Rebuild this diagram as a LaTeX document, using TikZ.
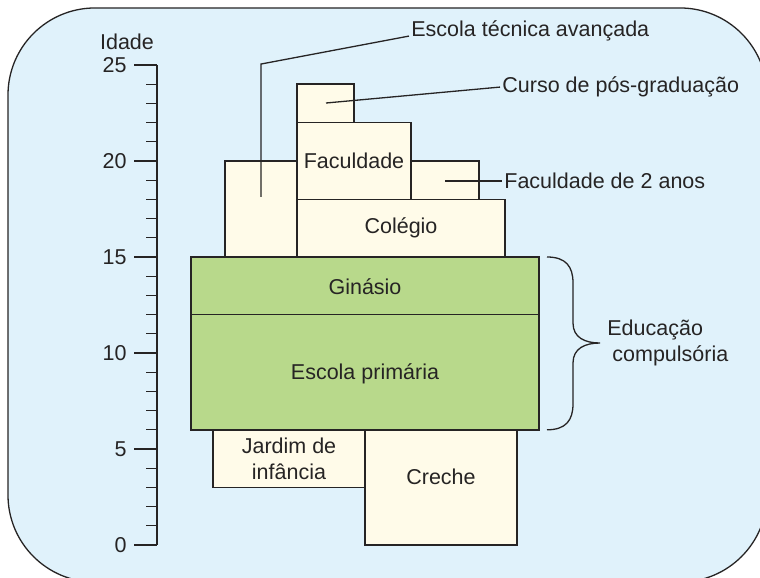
\documentclass[tikz,border=0pt]{standalone}
\usepackage{fontspec}
\setmainfont{Liberation Sans}
\definecolor{fundo}{RGB}{224,242,251}
\definecolor{creme}{RGB}{255,251,233}
\definecolor{verde}{RGB}{184,217,139}
\definecolor{traco}{RGB}{38,36,36}
\tikzset{
	caixa/.style={draw=traco,fill=creme,line width=0.75pt},
	caixaverde/.style={draw=traco,fill=verde,line width=0.75pt},
	linha/.style={draw=traco,line width=0.65pt},
	rotulo/.style={text=traco,inner sep=1pt,font=\fontsize{10.75}{13}\selectfont},
}
\begin{document}
\begin{tikzpicture}[x=0.5pt,y=9.6pt]
		\clip (0,-1.71875) rectangle (760,28.385);
		\draw[linha,fill=fundo,rounded corners=43.5pt] (8,27.97) rectangle (767,-1.93);
		\draw[linha] (157,0) -- (157,25);
		\foreach \i in {0,...,25}
			\draw[linha] (146,\i) -- (157,\i);
		\foreach \i in {0,5,...,25} {
			\draw[linha] (134,\i) -- (157,\i);
			\node[rotulo,anchor=east] (n\i) at (129,\i) {\i};
		}
		\node[rotulo] (idade) at (127,26.2) {Idade};
		\draw[caixa] (225,15) rectangle (297,20);
		\draw[caixa] (297,22) rectangle (354,24);
		\draw[caixa] (297,18) rectangle (411,22);
		\draw[caixa] (411,18) rectangle (479,20);
		\draw[caixa] (297,15) rectangle (505,18);
		\draw[caixaverde] (191,12) rectangle (539,15);
		\draw[caixaverde] (191,6) rectangle (539,12);
		\draw[caixa] (213,3) rectangle (365,6);
		\draw[caixa] (365,0) rectangle (517,6);
		\node[rotulo] (faculdade) at (354,20) {Faculdade};
		\node[rotulo] (colegio) at (401,16.5) {Colégio};
		\node[rotulo] (ginasio) at (365,13.45) {Ginásio};
		\node[rotulo] (primaria) at (365,8.9) {Escola primária};
		\node[rotulo,align=center] (jardim) at (289,4.5) {Jardim de\\infância};
		\node[rotulo] (creche) at (441,3.55) {Creche};
		\node[rotulo,anchor=west] (tecnica) at (409,26.8) {Escola técnica avançada};
		\node[rotulo,anchor=west] (curso) at (500,23.85) {Curso de pós-graduação};
		\node[rotulo,anchor=west] (doisanos) at (502,18.96) {Faculdade de 2 anos};
		\node[rotulo,anchor=west,align=left] (compulsoria) at (605,10.52) {Educação\\\hspace*{2.5pt}compulsória};
		\coordinate (ptecnica) at (261,18.125);
		\coordinate (dobra) at (261,25.05);
		\coordinate (pcurso) at (326,23.02);
		\coordinate (pdoisanos) at (445,18.96);
		\draw[linha] (ptecnica) -- (dobra) -- (tecnica.base west);
		\draw[linha] (pcurso) -- (curso.west);
		\draw[linha] (pdoisanos) -- (doisanos.west);
		\draw[linha] (547,15) .. controls (566,15) and (573,14.5) .. (573,13.65) -- (573,11.56) .. controls (573,10.8) and (585,10.52) .. (600,10.52) .. controls (585,10.52) and (573,10.24) .. (573,9.48) -- (573,7.35) .. controls (573,6.5) and (566,6) .. (547,6);
	\end{tikzpicture}
\end{document}
